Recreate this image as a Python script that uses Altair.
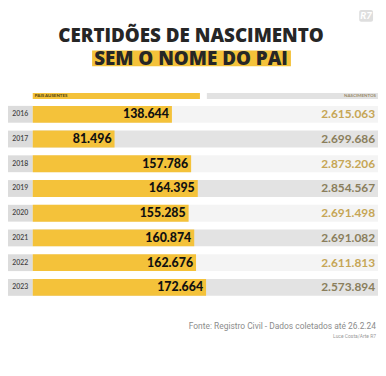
import altair as alt
import pandas as pd

years = ["2016", "2017", "2018", "2019", "2020", "2021", "2022", "2023"]
pais_ausentes = [138644, 81496, 157786, 164395, 155285, 160874, 162676, 172664]
nascimentos = [2615063, 2699686, 2873206, 2854567, 2691498, 2691082, 2611813, 2573894]

title1 = "CERTIDÕES DE NASCIMENTO"
title2 = "SEM O NOME DO PAI"
header_left = "PAIS AUSENTES"
header_right = "NASCIMENTOS"
source = "Fonte: Registro Civil - Dados coletados até 26.2.24"
credit = "Luce Costa/Arte R7"

YELLOW = "#f4c23a"
FONT = "Lato"


def fmt(v):
    return f"{v:,}".replace(",", ".")


df = pd.DataFrame({
    "year": years,
    "pais": pais_ausentes,
    "nasc": nascimentos,
    "pais_label": [fmt(v) for v in pais_ausentes],
    "nasc_label": [fmt(v) for v in nascimentos],
    "shade": ["light" if i % 2 == 0 else "dark" for i in range(len(years))],
})

yenc = alt.Y("year:N", axis=None, sort=years,
             scale=alt.Scale(range=[93, 293], paddingInner=0.32, paddingOuter=0.16))
xscale = alt.Scale(domain=[0, 340000], range=[25, 370], nice=False, zero=True)

is_light = alt.datum.shade == "light"

base = alt.Chart(df)

rows = base.mark_rect().encode(
    y=yenc,
    x=alt.value(25), x2=alt.value(374),
    color=alt.condition(is_light, alt.value("#f4f4f4"), alt.value("#e3e3e3")),
)

year_box = base.mark_rect(color="#dcdcdc").encode(
    y=yenc, x=alt.value(0), x2=alt.value(25),
)

year_text = base.mark_text(font=FONT, fontSize=7, color="#444444", fontWeight=600).encode(
    y=yenc, x=alt.value(12.5), text="year:N",
)

bars = base.mark_bar(color=YELLOW).encode(
    y=yenc,
    x=alt.X("pais:Q", scale=xscale, axis=None),
)

bar_labels = base.mark_text(font=FONT, fontSize=12.5, fontWeight=900, color="#111111",
                            align="right", dx=-3).encode(
    y=yenc,
    x=alt.X("pais:Q", scale=xscale, axis=None),
    text="pais_label:N",
)

nasc_labels = base.mark_text(font=FONT, fontSize=12, fontWeight=700, align="right").encode(
    y=yenc,
    x=alt.value(371),
    text="nasc_label:N",
    color=alt.condition(is_light, alt.value("#c6a656"), alt.value("#8a7e5c")),
)

one = alt.Chart(pd.DataFrame({"a": [0]}))

hdr_left = one.mark_rect(color=YELLOW).encode(
    x=alt.value(25), x2=alt.value(194), y=alt.value(84), y2=alt.value(90))
hdr_right = one.mark_rect(color="#e2e2e2").encode(
    x=alt.value(201), x2=alt.value(374), y=alt.value(84), y2=alt.value(90))
hdr_left_t = one.mark_text(font=FONT, fontSize=4.5, fontWeight=900, color="#5a4a10",
                           align="left", baseline="middle", text=header_left).encode(
    x=alt.value(27), y=alt.value(87.3))
hdr_right_t = one.mark_text(font=FONT, fontSize=4.5, fontWeight=700, color="#9a8a6a",
                            align="right", baseline="middle", text=header_right).encode(
    x=alt.value(372), y=alt.value(87.3))

t1 = one.mark_text(font="Open Sans", fontSize=19, fontWeight=800, color="#262626",
                   align="center", baseline="middle", text=title1).encode(
    x=alt.value(185), y=alt.value(26))
hl = one.mark_rect(color=YELLOW).encode(
    x=alt.value(85), x2=alt.value(286), y=alt.value(41), y2=alt.value(57))
t2 = one.mark_text(font="Open Sans", fontSize=19, fontWeight=800, color="#262626",
                   align="center", baseline="middle", text=title2).encode(
    x=alt.value(185), y=alt.value(49.5))

logo = one.mark_rect(color="#dedede", cornerRadius=2).encode(
    x=alt.value(355), x2=alt.value(369), y=alt.value(0), y2=alt.value(12))
logo_t = one.mark_text(font=FONT, fontSize=10, fontWeight=900, fontStyle="italic", color="#ffffff",
                       align="center", baseline="middle", text="R7").encode(
    x=alt.value(362), y=alt.value(6.5))

src = one.mark_text(font="Roboto", fontSize=8.5, color="#8c8c8c", align="right",
                    baseline="middle", text=source).encode(
    x=alt.value(372), y=alt.value(320))
cred = one.mark_text(font="Roboto", fontSize=5, color="#9a9a9a", align="right",
                     baseline="middle", text=credit).encode(
    x=alt.value(372), y=alt.value(330))

chart = alt.layer(
    rows, year_box, year_text, bars, bar_labels, nasc_labels,
    hdr_left, hdr_right, hdr_left_t, hdr_right_t,
    t1, hl, t2, logo, logo_t, src, cred,
).properties(
    width=374, height=360, padding=0, autosize=alt.AutoSizeParams(type="none"),
    background="#ffffff",
).configure_view(stroke=None)

chart.save("out.html", embed_options={"renderer": "svg", "actions": False})
